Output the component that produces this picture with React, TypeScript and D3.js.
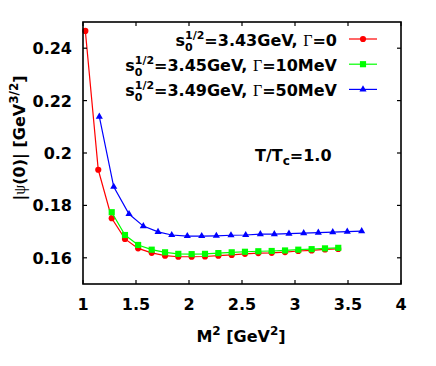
import React from 'react';
import * as d3 from 'd3';

// M^2 values and |psi(0)| values
const redX = [1.022, 1.144, 1.271, 1.396, 1.52, 1.648, 1.774, 1.899, 2.025, 2.151, 2.277, 2.403, 2.528, 2.654, 2.78, 2.906, 3.031, 3.157, 3.283, 3.408];
const redY = [0.2466, 0.1936, 0.1751, 0.1672, 0.1636, 0.1619, 0.1608, 0.1604, 0.1604, 0.1605, 0.1608, 0.1611, 0.1615, 0.1618, 0.1619, 0.1622, 0.1626, 0.1628, 0.1632, 0.1634];

const greenX = [1.271, 1.396, 1.52, 1.648, 1.774, 1.899, 2.025, 2.151, 2.277, 2.403, 2.528, 2.654, 2.78, 2.906, 3.031, 3.157, 3.283, 3.408];
const greenY = [0.1774, 0.1687, 0.1649, 0.1631, 0.1621, 0.1615, 0.1614, 0.1615, 0.1618, 0.1621, 0.1623, 0.1625, 0.1626, 0.1628, 0.1631, 0.1633, 0.1636, 0.1638];

const blueX = [1.154, 1.29, 1.434, 1.569, 1.708, 1.837, 1.984, 2.12, 2.258, 2.396, 2.535, 2.673, 2.805, 2.943, 3.082, 3.22, 3.356, 3.493, 3.629];
const blueY = [0.2139, 0.1871, 0.1767, 0.1721, 0.1699, 0.1687, 0.1683, 0.1683, 0.1684, 0.1686, 0.1687, 0.169, 0.169, 0.1692, 0.1694, 0.1696, 0.1698, 0.17, 0.1702];

const xTicks = [1, 1.5, 2, 2.5, 3, 3.5, 4];
const xTickLabels = ['1', '1.5', '2', '2.5', '3', '3.5', '4'];
const yTicks = [0.16, 0.18, 0.2, 0.22, 0.24];
const yTickLabels = ['0.16', '0.18', '0.2', '0.22', '0.24'];

const legendValues = ['=3.43GeV, ', '=3.45GeV, ', '=3.49GeV, '];
const legendWidths = ['=0', '=10MeV', '=50MeV'];

const FONT = '"DejaVu Sans", sans-serif';
const SERIF = '"Liberation Serif", "DejaVu Serif", serif';

const W = 436;
const H = 366;
const left = 83, right = 401, top = 22, bottom = 284;

const x = d3.scaleLinear().domain([1, 4]).range([left, right]);
const y = d3.scaleLinear().domain([0.15, 0.25]).range([bottom, top]);

const line = d3
  .line<[number, number]>()
  .x((d) => x(d[0]))
  .y((d) => y(d[1]));

const series = [
  { xs: redX, ys: redY, color: '#ff0000', shape: d3.symbolCircle, size: 30 },
  { xs: greenX, ys: greenY, color: '#00ff00', shape: d3.symbolSquare, size: 38 },
  { xs: blueX, ys: blueY, color: '#0000ff', shape: d3.symbolTriangle, size: 22 },
];

const Marker = ({ cx, cy, s }: { cx: number; cy: number; s: any }) => (
  <path
    d={d3.symbol().type(s.shape).size(s.size)() || ''}
    transform={`translate(${cx},${cy})`}
    fill={s.color}
  />
);

export default function App() {
  const tick = 4;
  return (
    <svg
      width={W}
      height={H}
      style={{ position: 'absolute', left: 0, top: 0, background: '#fff' }}
      fontFamily={FONT}
      fontWeight="bold"
    >
      <rect x={0} y={0} width={W} height={H} fill="#fff" />

      {/* data */}
      {series.map((s, i) => {
        const pts = s.xs.map((v, j) => [v, s.ys[j]] as [number, number]);
        return (
          <g key={i}>
            <path d={line(pts) || ''} fill="none" stroke={s.color} strokeWidth={1.2} />
            {pts.map((p, j) => (
              <Marker key={j} cx={x(p[0])} cy={y(p[1])} s={s} />
            ))}
          </g>
        );
      })}

      {/* ticks on all four sides, pointing in */}
      {xTicks.map((t, i) => (
        <g key={'xt' + i}>
          <line x1={x(t)} x2={x(t)} y1={bottom} y2={bottom - tick} stroke="#000" strokeWidth={1.2} />
          <line x1={x(t)} x2={x(t)} y1={top} y2={top + tick} stroke="#000" strokeWidth={1.2} />
          <text x={x(t)} y={310} textAnchor="middle" fontSize={16}>
            {xTickLabels[i]}
          </text>
        </g>
      ))}
      {yTicks.map((t, i) => (
        <g key={'yt' + i}>
          <line x1={left} x2={left + tick} y1={y(t)} y2={y(t)} stroke="#000" strokeWidth={1.2} />
          <line x1={right} x2={right - tick} y1={y(t)} y2={y(t)} stroke="#000" strokeWidth={1.2} />
          <text x={72} y={y(t) + 6} textAnchor="end" fontSize={16}>
            {yTickLabels[i]}
          </text>
        </g>
      ))}

      <rect x={left} y={top} width={right - left} height={bottom - top} fill="none" stroke="#000" strokeWidth={1.6} />

      {/* legend */}
      {series.map((s, i) => {
        const ly = 39 + i * 25.2;
        return (
          <g key={'lg' + i}>
            <text x={337} y={ly + 7} textAnchor="end" fontSize={16}>
              s
              <tspan fontSize={11} dy={5}>0</tspan>
              <tspan fontSize={11} dx={-7.7} dy={-12.5}>1/2</tspan>
              <tspan dy={7.5}>{legendValues[i]}</tspan>
              <tspan fontFamily={SERIF} fontWeight="normal">Γ</tspan>
              <tspan>{legendWidths[i]}</tspan>
            </text>
            <line x1={349} x2={377} y1={ly} y2={ly} stroke={s.color} strokeWidth={1.2} />
            <Marker cx={363} cy={ly} s={s} />
          </g>
        );
      })}

      <text x={255} y={161} fontSize={16}>
        T/T<tspan fontSize={12} dy={4}>c</tspan>
        <tspan dy={-4}>=1.0</tspan>
      </text>

      {/* axis titles */}
      <text x={241} y={342} textAnchor="middle" fontSize={16}>
        M<tspan fontSize={12} dy={-7}>2</tspan>
        <tspan dy={7}> [GeV</tspan>
        <tspan fontSize={12} dy={-7}>2</tspan>
        <tspan dy={7}>]</tspan>
      </text>

      <text transform="translate(25,138) rotate(-90)" textAnchor="middle" fontSize={16}>
        |<tspan fontFamily={SERIF} fontWeight="normal">ψ</tspan>(0)| [GeV
        <tspan fontSize={12} dy={-7}>3/2</tspan>
        <tspan dy={7}>]</tspan>
      </text>
    </svg>
  );
}
